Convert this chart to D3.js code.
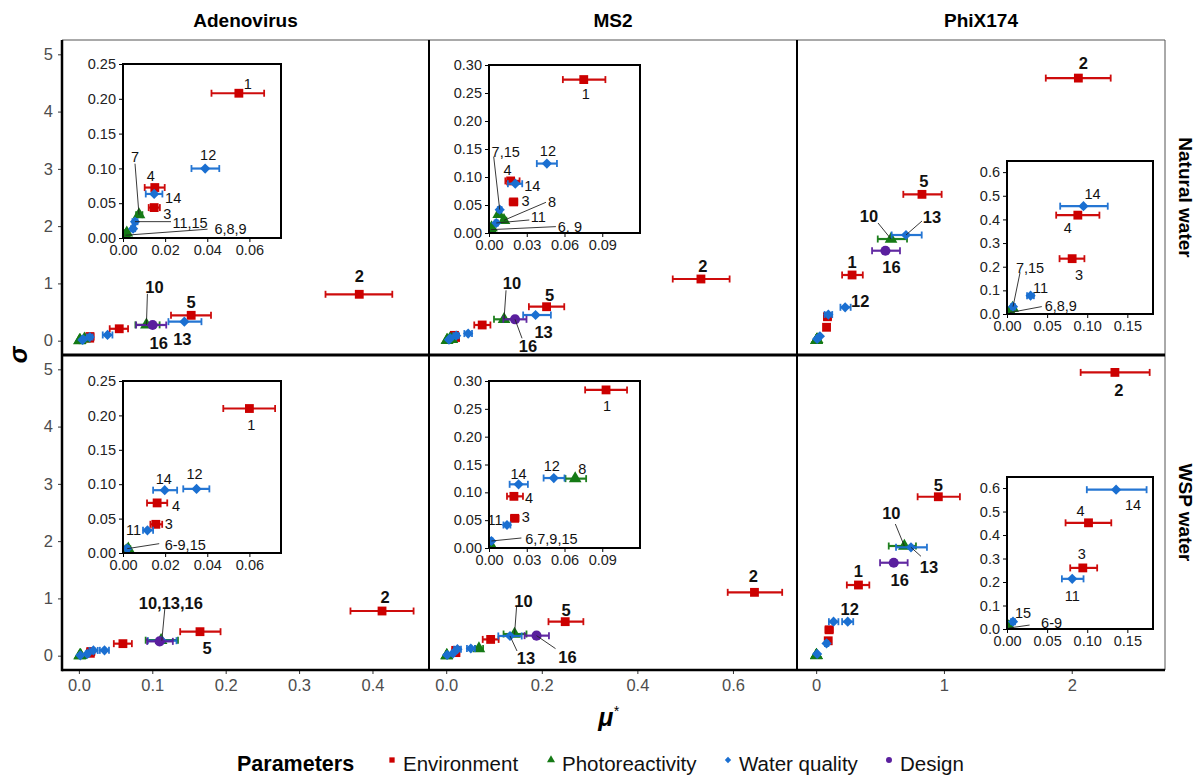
<!DOCTYPE html>
<html><head><meta charset="utf-8">
<script src="https://cdn.jsdelivr.net/npm/d3@7/dist/d3.min.js"></script>
<style>
body{margin:0;background:#fff;}
svg{font-family:Arial,"Liberation Sans",sans-serif;}
</style></head><body>
<svg id="chart" width="1203" height="778"></svg>
<script>
// ===== data =====
const viruses = ['Adenovirus','MS2','PhiX174'];
const waters = ['Natural water','WSP water'];
const groups = ['Environment','Photoreactivity','Water quality','Design'];
const groupColor = ['#cc0000','#157a15','#1a6fd1','#5a1f9e'];
const paramGroup = [0,0,0,0,0,1,1,1,1,1,2,2,2,2,2,3]; // parameters 1..16

// rows: parameter 1..16 -> [mu*, sigma, mu* low, mu* high]
const adenoNatural = [
  [0.055,0.208,0.042,0.067],[0.382,0.81,0.336,0.427],[0.0148,0.0437,0.0122,0.0175],[0.0151,0.0725,0.0103,0.0198],
  [0.153,0.443,0.1255,0.180],[0.0012,0.004,0.0006,0.0018],[0.0076,0.0335,0.0062,0.0092],[0.0018,0.0075,0.0010,0.0026],
  [0.0008,0.002,0.0004,0.0012],[0.092,0.276,0.077,0.110],[0.0057,0.0235,0.0045,0.0069],[0.039,0.0998,0.0325,0.0457],
  [0.1437,0.332,0.122,0.167],[0.0148,0.0633,0.0108,0.0187],[0.0048,0.0134,0.0038,0.0058],[0.1005,0.274,0.078,0.119]
];
const ms2Natural = [
  [0.0753,0.274,0.0587,0.0925],[0.533,1.077,0.474,0.593],[0.0196,0.0555,0.0164,0.0225],[0.0172,0.093,0.013,0.0243],
  [0.210,0.593,0.173,0.247],[0.0015,0.006,0.0008,0.0022],[0.0077,0.0334,0.0062,0.0092],[0.0119,0.0227,0.0100,0.0138],
  [0.0020,0.0095,0.0012,0.0028],[0.121,0.373,0.100,0.143],[0.0058,0.0179,0.0045,0.0071],[0.046,0.124,0.038,0.054],
  [0.187,0.448,0.161,0.219],[0.0209,0.088,0.015,0.0264],[0.0085,0.0417,0.0070,0.0100],[0.144,0.373,0.1195,0.168]
];
const phixNatural = [
  [0.281,1.147,0.203,0.365],[2.052,4.585,1.797,2.305],[0.0812,0.234,0.0655,0.0965],[0.0883,0.418,0.0613,0.1152],
  [0.828,2.555,0.682,0.982],[0.0035,0.006,0.002,0.005],[0.0070,0.025,0.005,0.009],[0.0040,0.010,0.0025,0.0055],
  [0.0025,0.004,0.0015,0.0035],[0.586,1.775,0.482,0.711],[0.0294,0.0775,0.025,0.0335],[0.227,0.583,0.19,0.27],
  [0.703,1.845,0.591,0.826],[0.0953,0.456,0.0663,0.1256],[0.0075,0.031,0.005,0.010],[0.542,1.571,0.4375,0.656]
];
const adenoWSP = [
  [0.060,0.21,0.0476,0.0722],[0.413,0.78,0.37,0.456],[0.0156,0.0417,0.013,0.0186],[0.0162,0.0728,0.0114,0.021],
  [0.165,0.419,0.138,0.193],[0.0015,0.003,0.0008,0.0022],[0.0025,0.006,0.0015,0.0035],[0.0020,0.004,0.0012,0.0028],
  [0.0010,0.002,0.0005,0.0015],[0.112,0.27,0.091,0.135],[0.0116,0.033,0.0095,0.0143],[0.0349,0.0932,0.0286,0.041],
  [0.113,0.262,0.094,0.133],[0.0198,0.0913,0.0143,0.0257],[0.0020,0.0063,0.0012,0.0028],[0.110,0.25,0.093,0.128]
];
const ms2WSP = [
  [0.093,0.284,0.0764,0.1097],[0.645,1.106,0.589,0.703],[0.0204,0.0533,0.0175,0.0235],[0.0198,0.0928,0.0143,0.027],
  [0.249,0.594,0.214,0.287],[0.0010,0.003,0.0005,0.0015],[0.0015,0.005,0.0008,0.0022],[0.0685,0.1246,0.0608,0.0772],
  [0.0012,0.002,0.0006,0.0018],[0.143,0.378,0.12,0.168],[0.0143,0.0413,0.0115,0.017],[0.0515,0.1257,0.0434,0.060],
  [0.1335,0.344,0.109,0.158],[0.0235,0.1144,0.0164,0.0309],[0.0019,0.0126,0.0010,0.0028],[0.189,0.35,0.164,0.215]
];
const phixWSP = [
  [0.331,1.234,0.24,0.416],[2.338,4.946,2.07,2.61],[0.0945,0.26,0.0788,0.1124],[0.1016,0.452,0.073,0.13],
  [0.956,2.775,0.794,1.125],[0.002,0.004,0.001,0.003],[0.003,0.008,0.002,0.004],[0.002,0.010,0.001,0.003],
  [0.001,0.003,0.0005,0.0015],[0.69,1.915,0.568,0.781],[0.0813,0.2135,0.0684,0.0954],[0.247,0.594,0.203,0.29],
  [0.742,1.892,0.625,0.867],[0.136,0.593,0.0995,0.174],[0.0075,0.031,0.005,0.010],[0.607,1.623,0.5,0.716]
];
const panelData = [adenoNatural, ms2Natural, phixNatural, adenoWSP, ms2WSP, phixWSP];

// axes ticks
const yTicksMain = [0,1,2,3,4,5];
const xTicksMain = [[0,0.1,0.2,0.3,0.4],[0,0.2,0.4,0.6],[0,1,2]];
const insetXTicks = [[0,0.02,0.04,0.06],[0,0.03,0.06,0.09],[0,0.05,0.10,0.15]];
const insetYTicks = [[0,0.05,0.10,0.15,0.20,0.25],[0,0.05,0.10,0.15,0.20,0.25,0.30],[0,0.1,0.2,0.3,0.4,0.5,0.6]];
const insetXMax = [0.075,0.12,0.182];
const insetYMax = [0.25,0.30,0.647];

// point labels: [parameter, text, dx, dy, leader start offset]
const mainLabels = [
  [[2,'2',0,-18],[5,'5',0,-13],[10,'10',8,-38,[1,-31]],[16,'16',6,18],[13,'13',-2,17]],
  [[2,'2',2,-13],[5,'5',3,-12],[10,'10',8,-36,[2,-29]],[13,'13',8,17],[16,'16',13,27,[7,19]]],
  [[2,'2',5,-15],[5,'5',2,-13],[10,'10',-22,-23,[-13,-16]],[13,'13',26,-18,[16,-14]],[16,'16',6,16],[1,'1',0,-13],[12,'12',15,-6]],
  [[2,'2',3,-14],[5,'5',7,16],[13,'10,13,16',9,-38,[3,-32]]],
  [[2,'2',-1,-16],[5,'5',1,-12],[10,'10',9,-33,[2,-27]],[13,'13',16,22,[7,15]],[16,'16',31,21,[19,13]]],
  [[2,'2',4,18],[5,'5',0,-12],[10,'10',-13,-33,[-9,-22]],[13,'13',18,20,[10,9]],[16,'16',6,17],[1,'1',0,-14],[12,'12',2,-13]]
];
const insetLabels = [
  [[1,'1',9,-9],[12,'12',3,-14],[7,'7',-4,-58,[-4,-51]],[4,'4',-4,-12],[14,'14',19,4],[3,'3',13,6],[11,'11,15',55,1,[36,0]],[6,'6,8,9',105,-6,[82,-6]]],
  [[1,'1',2,14],[12,'12',1,-13],[15,'7,15',6,-58,[-6,-53]],[4,'4',-3,-11],[14,'14',17,2],[3,'3',12,-1],[8,'8',48,-19,[42,-18]],[11,'11',42,-6,[33,-3]],[6,'6, 9',79,-3,[65,-3]]],
  [[14,'14',9,-12],[4,'4',-10,13],[3,'3',7,16],[11,'11',10,-8],[15,'7,15',17,-39,[7,-34]],[6,'6,8,9',51,-7,[32,-6]]],
  [[1,'1',2,16],[12,'12',-2,-15],[14,'14',-1,-11],[4,'4',19,3],[3,'3',13,-1],[11,'11',-14,-1],[15,'6-9,15',58,-4,[32,-5]]],
  [[1,'1',1,16],[12,'12',-2,-12],[8,'8',7,-10],[14,'14',0,-11],[4,'4',15,1],[3,'3',11,-2],[11,'11',-12,-5],[15,'6,7,9,15',60,-2,[30,-3]]],
  [[14,'14',17,15],[4,'4',-8,-12],[3,'3',-1,-14],[11,'11',0,17],[15,'15',10,-9],[6,'6-9',43,-5,[21,-3]]]
];

// ===== layout =====
const svg = d3.select('#chart');
const colX = [62,429,797,1165];
const rowY = [40,355,670];
const xDomains = [[-0.023,0.477],[-0.036,0.734],[-0.15,2.73]];
const yDomain = [-0.25,5.25];
const xFmt = [d3.format('.1f'), d3.format('.1f'), d3.format('d')];
const insetBox = [ // x, y, w, h relative to panel
  [61,24,158,174],[60,25,151,168],[210,121,146,153],
  [61,26,158,172],[60,26,151,167],[210,122,146,152]
];
// square, triangle, diamond (rotated square), circle
const symbols = [d3.symbolSquare, d3.symbolTriangle, d3.symbolSquare, d3.symbolCircle];
const symRot = [0,0,45,0];
const symSize = [78,70,52,80];

const defs = svg.append('defs');

function drawPoints(g, data, xs, ys, keep){
  data.forEach((d,i) => {
    if(!keep(d)) return;
    const gi = paramGroup[i];
    const c = groupColor[gi];
    const y = ys(d[1]);
    const eg = g.append('g').attr('stroke', c).attr('opacity',0.95);
    eg.append('line').attr('x1', xs(d[2])).attr('x2', xs(d[3])).attr('y1', y).attr('y2', y).attr('stroke-width',2.2);
    [d[2], d[3]].forEach(v => eg.append('line').attr('x1', xs(v)).attr('x2', xs(v)).attr('y1', y-3.5).attr('y2', y+3.5).attr('stroke-width',1.8));
    g.append('path')
      .attr('d', d3.symbol().type(symbols[gi]).size(symSize[gi])())
      .attr('transform', `translate(${xs(d[0])},${y}) rotate(${symRot[gi]})`)
      .attr('fill', c);
  });
}

function drawLabels(g, labels, data, xs, ys, bold, size){
  labels.forEach(([id, txt, dx, dy, lead]) => {
    const d = data[id-1];
    const px = xs(d[0]), py = ys(d[1]);
    if(lead){
      g.append('line').attr('x1', px+lead[0]).attr('y1', py+lead[1]).attr('x2', px).attr('y2', py)
        .attr('stroke','#222').attr('stroke-width',0.9);
    }
    g.append('text').attr('x', px+dx).attr('y', py+dy).attr('dy','0.36em')
      .attr('text-anchor','middle').attr('font-size', size).attr('font-weight', bold ? 'bold' : 'normal')
      .attr('fill','#111').text(txt);
  });
}

for(let r=0; r<2; r++){
  for(let c=0; c<3; c++){
    const k = r*3 + c;
    const x0 = colX[c], x1 = colX[c+1], y0 = rowY[r], y1 = rowY[r+1];
    const xs = d3.scaleLinear().domain(xDomains[c]).range([x0, x1]);
    const ys = d3.scaleLinear().domain(yDomain).range([y1, y0]);
    const data = panelData[k];

    defs.append('clipPath').attr('id', 'clip'+k).append('rect')
      .attr('x', x0).attr('y', y0).attr('width', x1-x0).attr('height', y1-y0);
    const g = svg.append('g').attr('clip-path', `url(#clip${k})`);
    g.append('rect').attr('x', x0).attr('y', y0).attr('width', x1-x0).attr('height', y1-y0).attr('fill','#fff');
    drawPoints(g, data, xs, ys, () => true);
    drawLabels(g, mainLabels[k], data, xs, ys, true, 16.5);

    // axes
    if(c === 0){
      svg.append('g').attr('transform', `translate(${x0},0)`)
        .call(d3.axisLeft(ys).tickValues(yTicksMain).tickFormat(d3.format('d')).tickSize(4).tickPadding(5))
        .call(a => a.select('.domain').remove())
        .call(a => a.selectAll('text').attr('font-size',16.5).attr('fill','#4d4d4d').attr('font-family','Arial, Liberation Sans, sans-serif'))
        .call(a => a.selectAll('line').attr('stroke','#333'));
    }
    if(r === 1){
      svg.append('g').attr('transform', `translate(0,${y1})`)
        .call(d3.axisBottom(xs).tickValues(xTicksMain[c]).tickFormat(xFmt[c]).tickSize(4).tickPadding(5))
        .call(a => a.select('.domain').remove())
        .call(a => a.selectAll('text').attr('font-size',16.5).attr('fill','#4d4d4d').attr('font-family','Arial, Liberation Sans, sans-serif'))
        .call(a => a.selectAll('line').attr('stroke','#333'));
    }

    // inset
    const [bx, by, bw, bh] = insetBox[k];
    const ix = d3.scaleLinear().domain([0, insetXMax[c]]).range([x0+bx, x0+bx+bw]);
    const iy = d3.scaleLinear().domain([0, insetYMax[c]]).range([y0+by+bh, y0+by]);
    const ig = svg.append('g');
    ig.append('rect').attr('x', x0+bx).attr('y', y0+by).attr('width', bw).attr('height', bh).attr('fill','#fff');
    defs.append('clipPath').attr('id', 'iclip'+k).append('rect')
      .attr('x', x0+bx).attr('y', y0+by).attr('width', bw).attr('height', bh);
    const ip = ig.append('g').attr('clip-path', `url(#iclip${k})`);
    drawPoints(ip, data, ix, iy, d => d[0] <= insetXMax[c] && d[1] <= insetYMax[c]);
    drawLabels(ig, insetLabels[k], data, ix, iy, false, 14.5);
    ig.append('rect').attr('x', x0+bx).attr('y', y0+by).attr('width', bw).attr('height', bh)
      .attr('fill','none').attr('stroke','#000').attr('stroke-width',2);
    ig.append('g').attr('transform', `translate(${x0+bx},0)`)
      .call(d3.axisLeft(iy).tickValues(insetYTicks[c]).tickFormat(d3.format(c === 2 ? '.1f' : '.2f')).tickSize(4).tickPadding(3))
      .call(a => a.select('.domain').remove())
      .call(a => a.selectAll('text').attr('font-size',14.5).attr('fill','#222').attr('font-family','Arial, Liberation Sans, sans-serif'));
    ig.append('g').attr('transform', `translate(0,${y0+by+bh})`)
      .call(d3.axisBottom(ix).tickValues(insetXTicks[c]).tickFormat(d3.format('.2f')).tickSize(4).tickPadding(3))
      .call(a => a.select('.domain').remove())
      .call(a => a.selectAll('text').attr('font-size',14.5).attr('fill','#222').attr('font-family','Arial, Liberation Sans, sans-serif'));
  }
}

// panel borders
const frame = svg.append('g');
frame.append('line').attr('x1', colX[0]).attr('x2', colX[3]).attr('y1', rowY[0]).attr('y2', rowY[0]).attr('stroke','#555').attr('stroke-width',1);
frame.append('line').attr('x1', colX[3]).attr('x2', colX[3]).attr('y1', rowY[0]).attr('y2', rowY[2]).attr('stroke','#555').attr('stroke-width',1);
[colX[1], colX[2]].forEach(x => frame.append('line').attr('x1', x).attr('x2', x).attr('y1', rowY[0]).attr('y2', rowY[2]).attr('stroke','#000').attr('stroke-width',2));
frame.append('line').attr('x1', colX[0]).attr('x2', colX[3]).attr('y1', rowY[1]).attr('y2', rowY[1]).attr('stroke','#000').attr('stroke-width',3);
frame.append('line').attr('x1', colX[0]).attr('x2', colX[3]).attr('y1', rowY[2]).attr('y2', rowY[2]).attr('stroke','#000').attr('stroke-width',2.5);
frame.append('line').attr('x1', colX[0]).attr('x2', colX[0]).attr('y1', rowY[0]).attr('y2', rowY[2]+1.2).attr('stroke','#000').attr('stroke-width',2.5);

// strips
viruses.forEach((v,i) => svg.append('text').attr('x', (colX[i]+colX[i+1])/2).attr('y', 27)
  .attr('text-anchor','middle').attr('font-size',19).attr('font-weight','bold').text(v));
waters.forEach((w,i) => {
  const cy = (rowY[i]+rowY[i+1])/2;
  svg.append('text').attr('transform', `translate(1179,${cy}) rotate(90)`)
    .attr('text-anchor','middle').attr('font-size',19).attr('font-weight','bold').text(w);
});

// axis titles
svg.append('text').attr('transform', `translate(27,${rowY[1]}) rotate(-90)`).attr('text-anchor','middle')
  .attr('font-size',25).attr('font-weight','bold').attr('font-style','italic').text('σ');
const xt = svg.append('text').attr('x', (colX[0]+colX[3])/2 - 5).attr('y', 726).attr('text-anchor','middle')
  .attr('font-size',25).attr('font-weight','bold').attr('font-style','italic');
xt.append('tspan').text('μ');
xt.append('tspan').attr('dy',-10).attr('font-size',14).attr('font-weight','normal').text('*');

// legend
const leg = svg.append('g').attr('transform','translate(0,763)');
leg.append('text').attr('x',237).attr('y',8).attr('font-size',21.5).attr('font-weight','bold').text('Parameters');
const legX = [392, 551, 728, 889];
groups.forEach((name,i) => {
  leg.append('path').attr('d', d3.symbol().type(symbols[i]).size(i === 2 ? 20 : 28)())
    .attr('transform', `translate(${legX[i]},-3) rotate(${symRot[i]})`).attr('fill', groupColor[i]);
  leg.append('text').attr('x', legX[i]+11).attr('y',8).attr('font-size',20.5).attr('fill','#111').text(name);
});
</script></body></html>
